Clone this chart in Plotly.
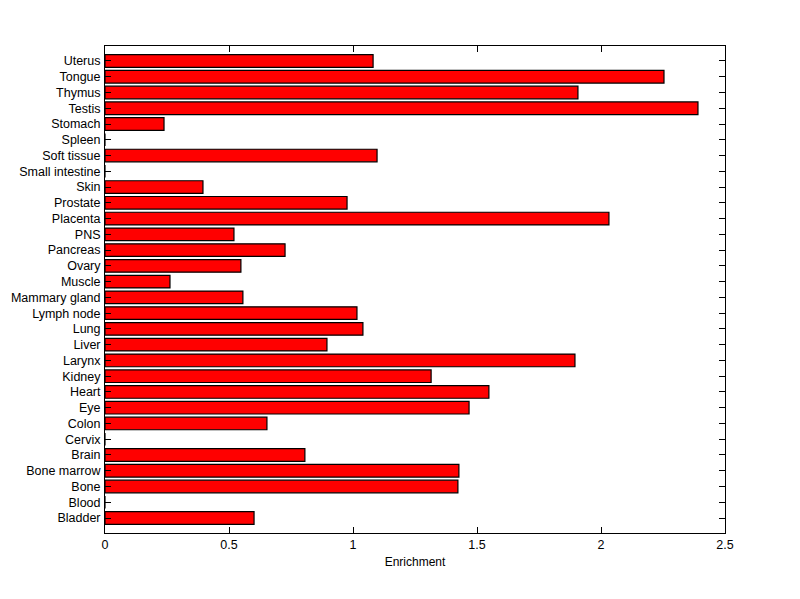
import plotly.graph_objects as go

tissues = ["Bladder", "Blood", "Bone", "Bone marrow", "Brain", "Cervix", "Colon", "Eye",
           "Heart", "Kidney", "Larynx", "Liver", "Lung", "Lymph node", "Mammary gland",
           "Muscle", "Ovary", "Pancreas", "PNS", "Placenta", "Prostate", "Skin",
           "Small intestine", "Soft tissue", "Spleen", "Stomach", "Testis", "Thymus",
           "Tongue", "Uterus"]
enrichment = [0.601, 0, 1.423, 1.427, 0.806, 0, 0.653, 1.468,
              1.548, 1.315, 1.895, 0.895, 1.040, 1.016, 0.556,
              0.262, 0.548, 0.726, 0.520, 2.032, 0.976, 0.395,
              0, 1.097, 0, 0.238, 2.391, 1.907,
              2.254, 1.081]
x_ticks = [0, 0.5, 1, 1.5, 2, 2.5]
x_tick_labels = ["0", "0.5", "1", "1.5", "2", "2.5"]

fig = go.Figure()
fig.add_trace(go.Bar(
    x=enrichment, y=list(range(len(tissues))), orientation="h", width=0.8,
    marker=dict(color="#ff0000", line=dict(color="black", width=1.2)),
))

fig.update_layout(
    width=800, height=599,
    margin=dict(l=97, r=83, t=38, b=74),
    paper_bgcolor="white", plot_bgcolor="white",
    font=dict(family="Liberation Sans, Arial, sans-serif", size=12.5, color="black"),
    showlegend=False,
    bargap=0.2,
)
fig.update_xaxes(
    range=[0, 2.5], tickvals=x_ticks, ticktext=x_tick_labels,
    ticks="inside", ticklen=6, tickcolor="black", tickwidth=1,
    showline=True, linecolor="black", linewidth=1, mirror="ticks",
    showgrid=False, zeroline=False, automargin=False,
    title=dict(text="Enrichment", standoff=6, font=dict(size=12)),
)
fig.update_yaxes(
    range=[-0.95, 29.95], tickvals=list(range(len(tissues))), ticktext=tissues,
    ticks="inside", ticklen=6, tickcolor="black", tickwidth=1,
    showline=True, linecolor="black", linewidth=1, mirror="ticks",
    showgrid=False, zeroline=False, ticklabelstandoff=1, automargin=False,
)

fig.write_html("out.html")
